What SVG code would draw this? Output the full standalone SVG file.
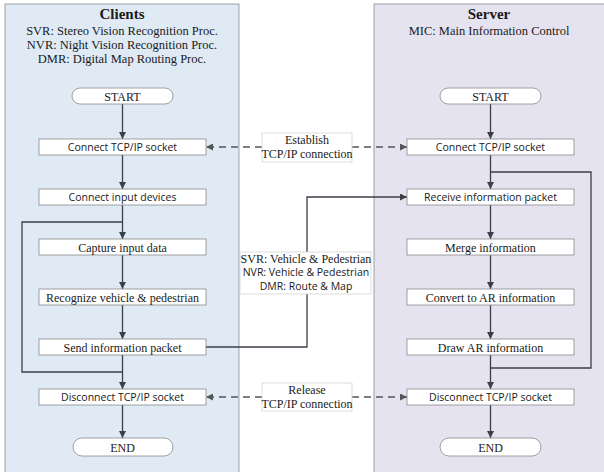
<svg xmlns="http://www.w3.org/2000/svg" width="604" height="472" viewBox="0 0 604 472">
<style>
.serif{font-family:"Liberation Serif","Times New Roman",serif;fill:#1a1a1a}
.sans{font-family:"Open Sans","DejaVu Sans",sans-serif;fill:#1a1a1a}
.box{fill:#fff;stroke:#8a8a8a;stroke-width:0.8}
.line{fill:none;stroke:#3a3f48;stroke-width:1.3}
.dash{fill:none;stroke:#555;stroke-width:1.3;stroke-dasharray:7 5}
.lbl{fill:#fff;stroke:#d4d4d4;stroke-width:0.8}
</style>
<defs>
<marker id="ah" viewBox="0 0 10 10" refX="10" refY="5" markerWidth="7" markerHeight="7" markerUnits="userSpaceOnUse" orient="auto">
<path d="M0,0 L10,5 L0,10 z" fill="#3a3f48"/>
</marker>
<marker id="ahd" viewBox="0 0 10 10" refX="10" refY="5" markerWidth="8" markerHeight="7" markerUnits="userSpaceOnUse" orient="auto">
<path d="M0,0 L10,5 L0,10 z" fill="#555"/>
</marker>
</defs>
<rect width="604" height="472" fill="#fff"/>
<g id="panel-clients">
<rect x="5" y="4" width="234" height="472" fill="#dfeaf5" stroke="#8c8c8c" stroke-width="0.8"/>
<text class="serif" x="122" y="19" font-size="15" font-weight="bold" text-anchor="middle">Clients</text>
<text class="serif" x="122" y="35" font-size="12.5" text-anchor="middle">SVR: Stereo Vision Recognition Proc.</text>
<text class="serif" x="122" y="49" font-size="12.5" text-anchor="middle">NVR: Night Vision Recognition Proc.</text>
<text class="serif" x="122" y="63" font-size="12.5" text-anchor="middle">DMR: Digital Map Routing Proc.</text>
</g>
<g id="panel-server">
<rect x="374" y="4" width="232" height="472" fill="#e5e3f0" stroke="#8c8c8c" stroke-width="0.8"/>
<text class="serif" x="489" y="19" font-size="15" font-weight="bold" text-anchor="middle">Server</text>
<text class="serif" x="489" y="35" font-size="12.5" text-anchor="middle">MIC: Main Information Control</text>
</g>
<g id="connectors">
<line class="line" x1="122.5" y1="104" x2="122.5" y2="139" marker-end="url(#ah)"/>
<line class="line" x1="122.5" y1="155" x2="122.5" y2="189" marker-end="url(#ah)"/>
<line class="line" x1="122.5" y1="205" x2="122.5" y2="239" marker-end="url(#ah)"/>
<line class="line" x1="122.5" y1="255" x2="122.5" y2="289" marker-end="url(#ah)"/>
<line class="line" x1="122.5" y1="305" x2="122.5" y2="339" marker-end="url(#ah)"/>
<line class="line" x1="122.5" y1="355" x2="122.5" y2="389" marker-end="url(#ah)"/>
<line class="line" x1="122.5" y1="405" x2="122.5" y2="438" marker-end="url(#ah)"/>
<polyline class="line" points="122.5,372 22,372 22,222 122.5,222"/>
<line class="line" x1="490.5" y1="104" x2="490.5" y2="139" marker-end="url(#ah)"/>
<line class="line" x1="490.5" y1="155" x2="490.5" y2="189" marker-end="url(#ah)"/>
<line class="line" x1="490.5" y1="205" x2="490.5" y2="239" marker-end="url(#ah)"/>
<line class="line" x1="490.5" y1="255" x2="490.5" y2="289" marker-end="url(#ah)"/>
<line class="line" x1="490.5" y1="305" x2="490.5" y2="339" marker-end="url(#ah)"/>
<line class="line" x1="490.5" y1="355" x2="490.5" y2="389" marker-end="url(#ah)"/>
<line class="line" x1="490.5" y1="405" x2="490.5" y2="438" marker-end="url(#ah)"/>
<polyline class="line" points="490.5,172 591,172 591,368 490.5,368"/>
<polyline class="line" points="206,347 307,347 307,197 407,197" marker-end="url(#ah)"/>
<line class="dash" x1="262" y1="147" x2="206" y2="147" marker-end="url(#ahd)"/>
<line class="dash" x1="352" y1="147" x2="407" y2="147" marker-end="url(#ahd)"/>
<line class="dash" x1="262" y1="397" x2="206" y2="397" marker-end="url(#ahd)"/>
<line class="dash" x1="352" y1="397" x2="407" y2="397" marker-end="url(#ahd)"/>
</g>
<g id="label-establish">
<rect class="lbl" x="262" y="133" width="90" height="29"/>
<text class="serif" x="307" y="144" font-size="12" text-anchor="middle">Establish</text>
<text class="serif" x="307" y="158" font-size="12" text-anchor="middle">TCP/IP connection</text>
</g>
<g id="label-release">
<rect class="lbl" x="262" y="383" width="90" height="28"/>
<text class="serif" x="307" y="394" font-size="12" text-anchor="middle">Release</text>
<text class="serif" x="307" y="408" font-size="12" text-anchor="middle">TCP/IP connection</text>
</g>
<g id="label-packet">
<rect class="lbl" x="240" y="252" width="131" height="42"/>
<text class="serif" x="306" y="263" font-size="12" text-anchor="middle">SVR: Vehicle &amp; Pedestrian</text>
<text class="sans" x="306" y="276" font-size="10.5" text-anchor="middle">NVR: Vehicle &amp; Pedestrian</text>
<text class="sans" x="306" y="290" font-size="10.5" text-anchor="middle">DMR: Route &amp; Map</text>
</g>
<g id="c-start"><rect class="box" x="72" y="88" width="101" height="16" rx="8"/><text class="serif" x="122.5" y="100.5" font-size="12" text-anchor="middle">START</text></g>
<g id="c-connect"><rect class="box" x="39" y="139" width="167" height="16"/><text class="sans" x="122.5" y="151" font-size="10.5" text-anchor="middle">Connect TCP/IP socket</text></g>
<g id="c-devices"><rect class="box" x="39" y="189" width="167" height="16"/><text class="sans" x="122.5" y="201" font-size="10.5" text-anchor="middle">Connect input devices</text></g>
<g id="c-capture"><rect class="box" x="39" y="239" width="167" height="16"/><text class="serif" x="122.5" y="251.5" font-size="12" text-anchor="middle">Capture input data</text></g>
<g id="c-recognize"><rect class="box" x="39" y="289" width="167" height="16"/><text class="serif" x="122.5" y="301.5" font-size="12" text-anchor="middle">Recognize vehicle &amp; pedestrian</text></g>
<g id="c-send"><rect class="box" x="39" y="339" width="167" height="16"/><text class="serif" x="122.5" y="351.5" font-size="12" text-anchor="middle">Send information packet</text></g>
<g id="c-disconnect"><rect class="box" x="39" y="389" width="167" height="16"/><text class="sans" x="122.5" y="401" font-size="10.5" text-anchor="middle">Disconnect TCP/IP socket</text></g>
<g id="c-end"><rect class="box" x="73" y="438" width="100" height="18" rx="9"/><text class="serif" x="122.5" y="451.5" font-size="12" text-anchor="middle">END</text></g>
<g id="s-start"><rect class="box" x="440" y="88" width="101" height="16" rx="8"/><text class="serif" x="490.5" y="100.5" font-size="12" text-anchor="middle">START</text></g>
<g id="s-connect"><rect class="box" x="407" y="139" width="167" height="16"/><text class="sans" x="490.5" y="151" font-size="10.5" text-anchor="middle">Connect TCP/IP socket</text></g>
<g id="s-receive"><rect class="box" x="407" y="189" width="167" height="16"/><text class="sans" x="490.5" y="201" font-size="10.5" text-anchor="middle">Receive information packet</text></g>
<g id="s-merge"><rect class="box" x="407" y="239" width="167" height="16"/><text class="serif" x="490.5" y="251.5" font-size="12" text-anchor="middle">Merge information</text></g>
<g id="s-convert"><rect class="box" x="407" y="289" width="167" height="16"/><text class="serif" x="490.5" y="301.5" font-size="12" text-anchor="middle">Convert to AR information</text></g>
<g id="s-draw"><rect class="box" x="407" y="339" width="167" height="16"/><text class="serif" x="490.5" y="351.5" font-size="12" text-anchor="middle">Draw AR information</text></g>
<g id="s-disconnect"><rect class="box" x="407" y="389" width="167" height="16"/><text class="sans" x="490.5" y="401" font-size="10.5" text-anchor="middle">Disconnect TCP/IP socket</text></g>
<g id="s-end"><rect class="box" x="440" y="438" width="101" height="18" rx="9"/><text class="serif" x="490.5" y="451.5" font-size="12" text-anchor="middle">END</text></g>
</svg>
